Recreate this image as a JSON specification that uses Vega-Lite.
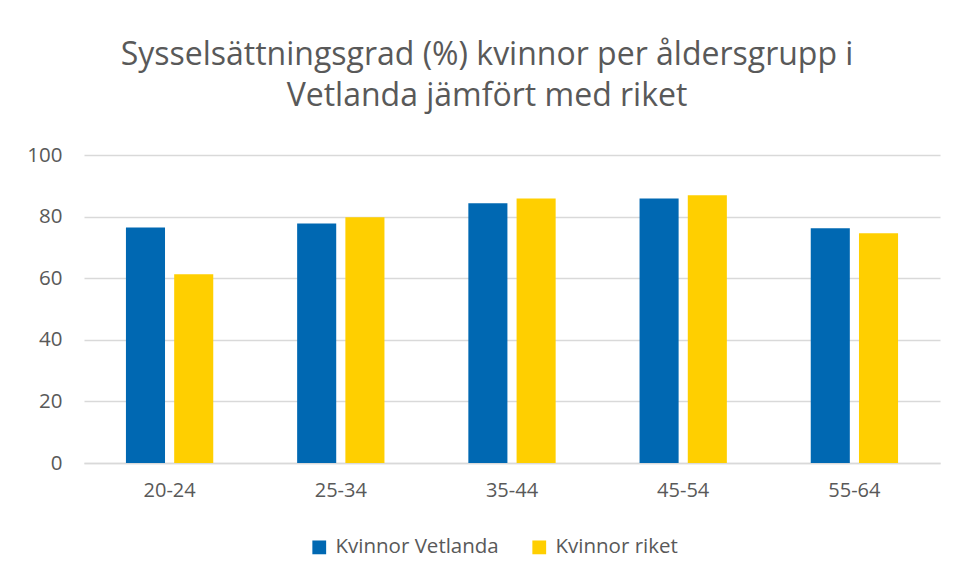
{
  "$schema": "https://vega.github.io/schema/vega-lite/v6.json",
  "width": 856,
  "height": 308,
  "autosize": {"type": "none"},
  "padding": {"left": 84, "top": 155, "right": 15, "bottom": 115},
  "background": "white",
  "title": {
    "text": ["Sysselsättningsgrad (%) kvinnor per åldersgrupp i", "Vetlanda jämfört med riket"],
    "anchor": "middle",
    "frame": "group",
    "dx": -25,
    "offset": 32,
    "font": "Open Sans",
    "fontSize": 32,
    "fontWeight": "normal",
    "color": "#595959",
    "lineHeight": 41
  },
  "data": {
    "values": [
      {"grupp": "20-24", "serie": "Kvinnor Vetlanda", "varde": 76.5},
      {"grupp": "20-24", "serie": "Kvinnor riket", "varde": 61.3},
      {"grupp": "25-34", "serie": "Kvinnor Vetlanda", "varde": 77.8},
      {"grupp": "25-34", "serie": "Kvinnor riket", "varde": 79.8},
      {"grupp": "35-44", "serie": "Kvinnor Vetlanda", "varde": 84.3},
      {"grupp": "35-44", "serie": "Kvinnor riket", "varde": 85.9},
      {"grupp": "45-54", "serie": "Kvinnor Vetlanda", "varde": 85.9},
      {"grupp": "45-54", "serie": "Kvinnor riket", "varde": 86.9},
      {"grupp": "55-64", "serie": "Kvinnor Vetlanda", "varde": 76.2},
      {"grupp": "55-64", "serie": "Kvinnor riket", "varde": 74.6}
    ]
  },
  "mark": {"type": "bar"},
  "encoding": {
    "x": {
      "field": "grupp",
      "type": "nominal",
      "sort": null,
      "scale": {"paddingInner": 0.49, "paddingOuter": 0.245},
      "axis": {
        "title": null,
        "labelAngle": 0,
        "ticks": false,
        "domainColor": "#d9d9d9",
        "domainWidth": 1.5,
        "labelPadding": 17,
        "labelFont": "Open Sans",
        "labelFontSize": 20,
        "labelColor": "#595959"
      }
    },
    "xOffset": {
      "field": "serie",
      "type": "nominal",
      "sort": ["Kvinnor Vetlanda", "Kvinnor riket"],
      "scale": {"paddingInner": 0.19, "paddingOuter": 0}
    },
    "y": {
      "field": "varde",
      "type": "quantitative",
      "scale": {"domain": [0, 100], "nice": false},
      "axis": {
        "title": null,
        "values": [0, 20, 40, 60, 80, 100],
        "domain": false,
        "ticks": false,
        "gridColor": "#d9d9d9",
        "gridWidth": 1.5,
        "labelPadding": 22,
        "labelFont": "Open Sans",
        "labelFontSize": 20.5,
        "labelColor": "#595959"
      }
    },
    "color": {
      "field": "serie",
      "type": "nominal",
      "sort": ["Kvinnor Vetlanda", "Kvinnor riket"],
      "scale": {"domain": ["Kvinnor Vetlanda", "Kvinnor riket"], "range": ["#0068b2", "#ffcf00"]},
      "legend": {
        "title": null,
        "orient": "none",
        "direction": "horizontal",
        "legendX": 225,
        "legendY": 382,
        "symbolType": "square",
        "symbolSize": 190,
        "symbolStrokeWidth": 0,
        "symbolOpacity": 1,
        "labelFont": "Open Sans",
        "labelFontSize": 20.5,
        "labelColor": "#595959",
        "labelLimit": 400,
        "labelOffset": 6,
        "columnPadding": 30
      }
    }
  },
  "config": {
    "view": {"stroke": null}
  }
}
